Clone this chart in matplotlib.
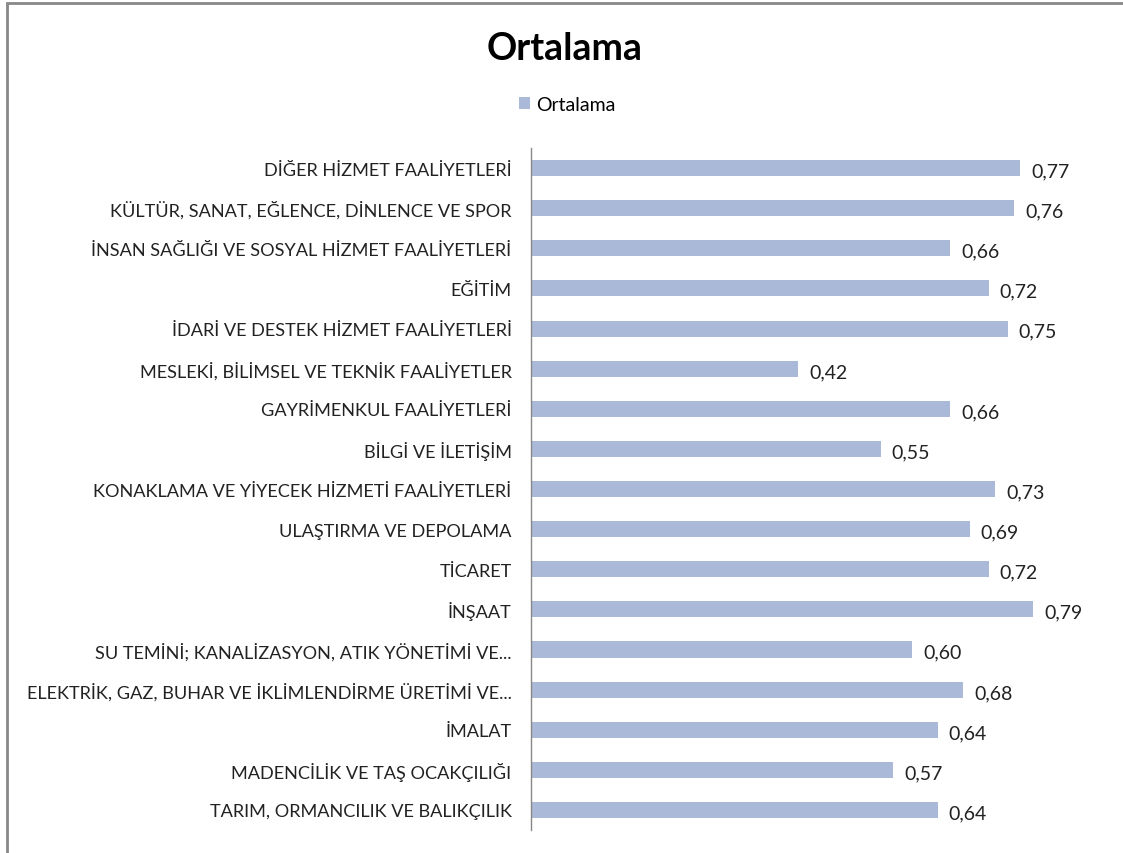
import matplotlib
matplotlib.use("Agg")
import matplotlib.pyplot as plt
from matplotlib.patches import Rectangle

# Sectors, bottom to top as drawn
categories = [
    "TARIM, ORMANCILIK VE BALIKÇILIK",
    "MADENCİLİK VE TAŞ OCAKÇILIĞI",
    "İMALAT",
    "ELEKTRİK, GAZ, BUHAR VE İKLİMLENDİRME ÜRETİMİ VE...",
    "SU TEMİNİ; KANALİZASYON, ATIK YÖNETİMİ VE...",
    "İNŞAAT",
    "TİCARET",
    "ULAŞTIRMA VE DEPOLAMA",
    "KONAKLAMA VE YİYECEK HİZMETİ FAALİYETLERİ",
    "BİLGİ VE İLETİŞİM",
    "GAYRİMENKUL FAALİYETLERİ",
    "MESLEKİ, BİLİMSEL VE TEKNİK FAALİYETLER",
    "İDARİ VE DESTEK HİZMET FAALİYETLERİ",
    "EĞİTİM",
    "İNSAN SAĞLIĞI VE SOSYAL HİZMET FAALİYETLERİ",
    "KÜLTÜR, SANAT, EĞLENCE, DİNLENCE VE SPOR",
    "DİĞER HİZMET FAALİYETLERİ",
]
ortalama = [0.64, 0.57, 0.64, 0.68, 0.60, 0.79, 0.72, 0.69, 0.73,
            0.55, 0.66, 0.42, 0.75, 0.72, 0.66, 0.76, 0.77]

plt.rcParams['font.family'] = ['Lato', 'DejaVu Sans']
bar_color = '#AAB9D7'

fig = plt.figure(figsize=(11.23, 8.54), dpi=100)
ax = fig.add_axes([0.4728, 0.0269, 0.5094, 0.7986])

y = list(range(len(categories)))
ax.barh(y, ortalama, height=0.4, color=bar_color, label='Ortalama')
for yi, v in zip(y, ortalama):
    ax.annotate(f"{v:.2f}".replace('.', ','), (v, yi), xytext=(8, -2),
                textcoords='offset points', va='center', ha='left',
                fontsize=14, color='#222222')

ax.set_yticks(y)
ax.set_yticklabels(categories, fontsize=13.1, color='#222222')
ax.tick_params(axis='y', length=0, pad=14)
ax.set_xlim(0, 0.9)
ax.set_ylim(-0.5, len(categories) - 0.5)
ax.set_xticks([])
for s in ['top', 'right', 'bottom']:
    ax.spines[s].set_visible(False)
ax.spines['left'].set_color('#888888')
ax.spines['left'].set_linewidth(1.0)

fig.text(0.503, 0.943, "Ortalama", ha='center', va='center',
         fontsize=27, fontweight='bold', color='black')
fig.legend(loc='center', bbox_to_anchor=(0.505, 0.877), frameon=False,
           fontsize=14, handlelength=0.6, handleheight=0.6,
           handletextpad=0.3)

# chart frame (cropped at right and bottom)
fig.patches.append(Rectangle((7 / 1123, -0.1), 1.2, 1.1 - 4 / 854,
                             transform=fig.transFigure, fill=False,
                             edgecolor='#888888', linewidth=2))

fig.savefig("out.png", dpi=100)
